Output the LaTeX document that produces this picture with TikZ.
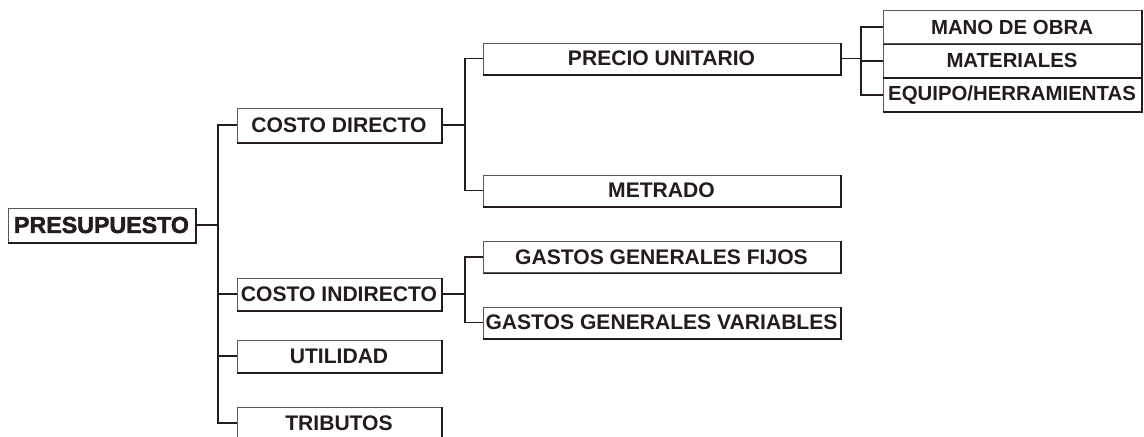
\documentclass[tikz,border=0pt]{standalone}
\usepackage{fontspec}
\setmainfont{Liberation Sans}
\newfontfamily\heavyfont{Liberation Sans Bold}[FakeBold=2]
\usetikzlibrary{positioning}
\definecolor{inkdark}{HTML}{231B21}
\definecolor{framegray}{HTML}{5A5558}

\begin{document}
\begin{tikzpicture}[
    x=0.025cm, y=-0.025cm,
    itembox/.style={
        draw=framegray, line width=0.6pt, fill=white,
        inner sep=0pt, text=inkdark,
        font=\bfseries\fontsize{15}{17}\selectfont
    },
    rootbox/.style={
        itembox, minimum width=4.675cm, minimum height=0.85cm,
        font=\heavyfont\fontsize{16.5}{18}\selectfont
    },
    midbox/.style={
        itembox, minimum width=5.1cm, minimum height=0.8cm
    },
    widebox/.style={
        itembox, minimum width=8.925cm, minimum height=0.775cm
    },
    leafbox/.style={
        itembox, minimum width=6.45cm, minimum height=0.825cm,
        font=\bfseries\fontsize{14.5}{16}\selectfont
    },
    boxshadow/.style={
        draw=inkdark, line width=1.3pt
    },
    branch/.style={
        draw=inkdark, line width=1.3pt
    },
]
\useasboundingbox (0,0) rectangle (1144,436);

% === Root ===
\node[rootbox] (pres) at (101.5,225) {PRESUPUESTO};

% === Level 1 ===
\node[midbox, minimum height=0.85cm] (cd) at (339,125) {COSTO DIRECTO};
\node[midbox] (ci) at (339,294) {COSTO INDIRECTO};
\node[midbox] (util) at (339,356) {UTILIDAD};
\node[midbox] (trib) at (339,423) {TRIBUTOS};

% === Level 2 ===
\node[widebox] (pu) at (661.5,58.5) {PRECIO UNITARIO};
\node[widebox] (met) at (661.5,190.5) {METRADO};
\node[widebox] (ggf) at (661.5,257) {GASTOS GENERALES FIJOS};
\node[widebox] (ggv) at (661.5,322.5) {GASTOS GENERALES VARIABLES};

% === Level 3 ===
\node[leafbox] (mano) at (1012,27) {MANO DE OBRA};
\node[leafbox, below=0pt of mano] (mat) {MATERIALES};
\node[leafbox, below=0pt of mat] (equ) {EQUIPO/HERRAMIENTAS};

% Shadowed bottom and right edges
\foreach \n in {pres,cd,ci,util,trib,pu,met,ggf,ggv,mano,mat,equ} {
    \draw[boxshadow] ([yshift=-0.4pt]\n.south west) -- ([yshift=-0.4pt, xshift=0.4pt]\n.south east)
        -- ([xshift=0.4pt]\n.north east);
}

% === Junctions ===
\coordinate (jroot) at (218,225);
\coordinate (jcd) at (465,125);
\coordinate (jci) at (465,294);
\coordinate (jpu) at (861,58.5);

% === Branches ===
\draw[branch] (pres.east) -- (jroot);
\foreach \c in {cd,ci,util,trib} {
    \draw[branch] (jroot) |- (\c.west);
}
\draw[branch] (cd.east) -- (jcd);
\foreach \c in {pu,met} {
    \draw[branch] (jcd) |- (\c.west);
}
\draw[branch] (ci.east) -- (jci);
\foreach \c in {ggf,ggv} {
    \draw[branch] (jci) |- (\c.west);
}
\draw[branch] (pu.east) -- (jpu);
\foreach \c in {mano,mat,equ} {
    \draw[branch] (jpu) |- (\c.west);
}

\end{tikzpicture}
\end{document}
